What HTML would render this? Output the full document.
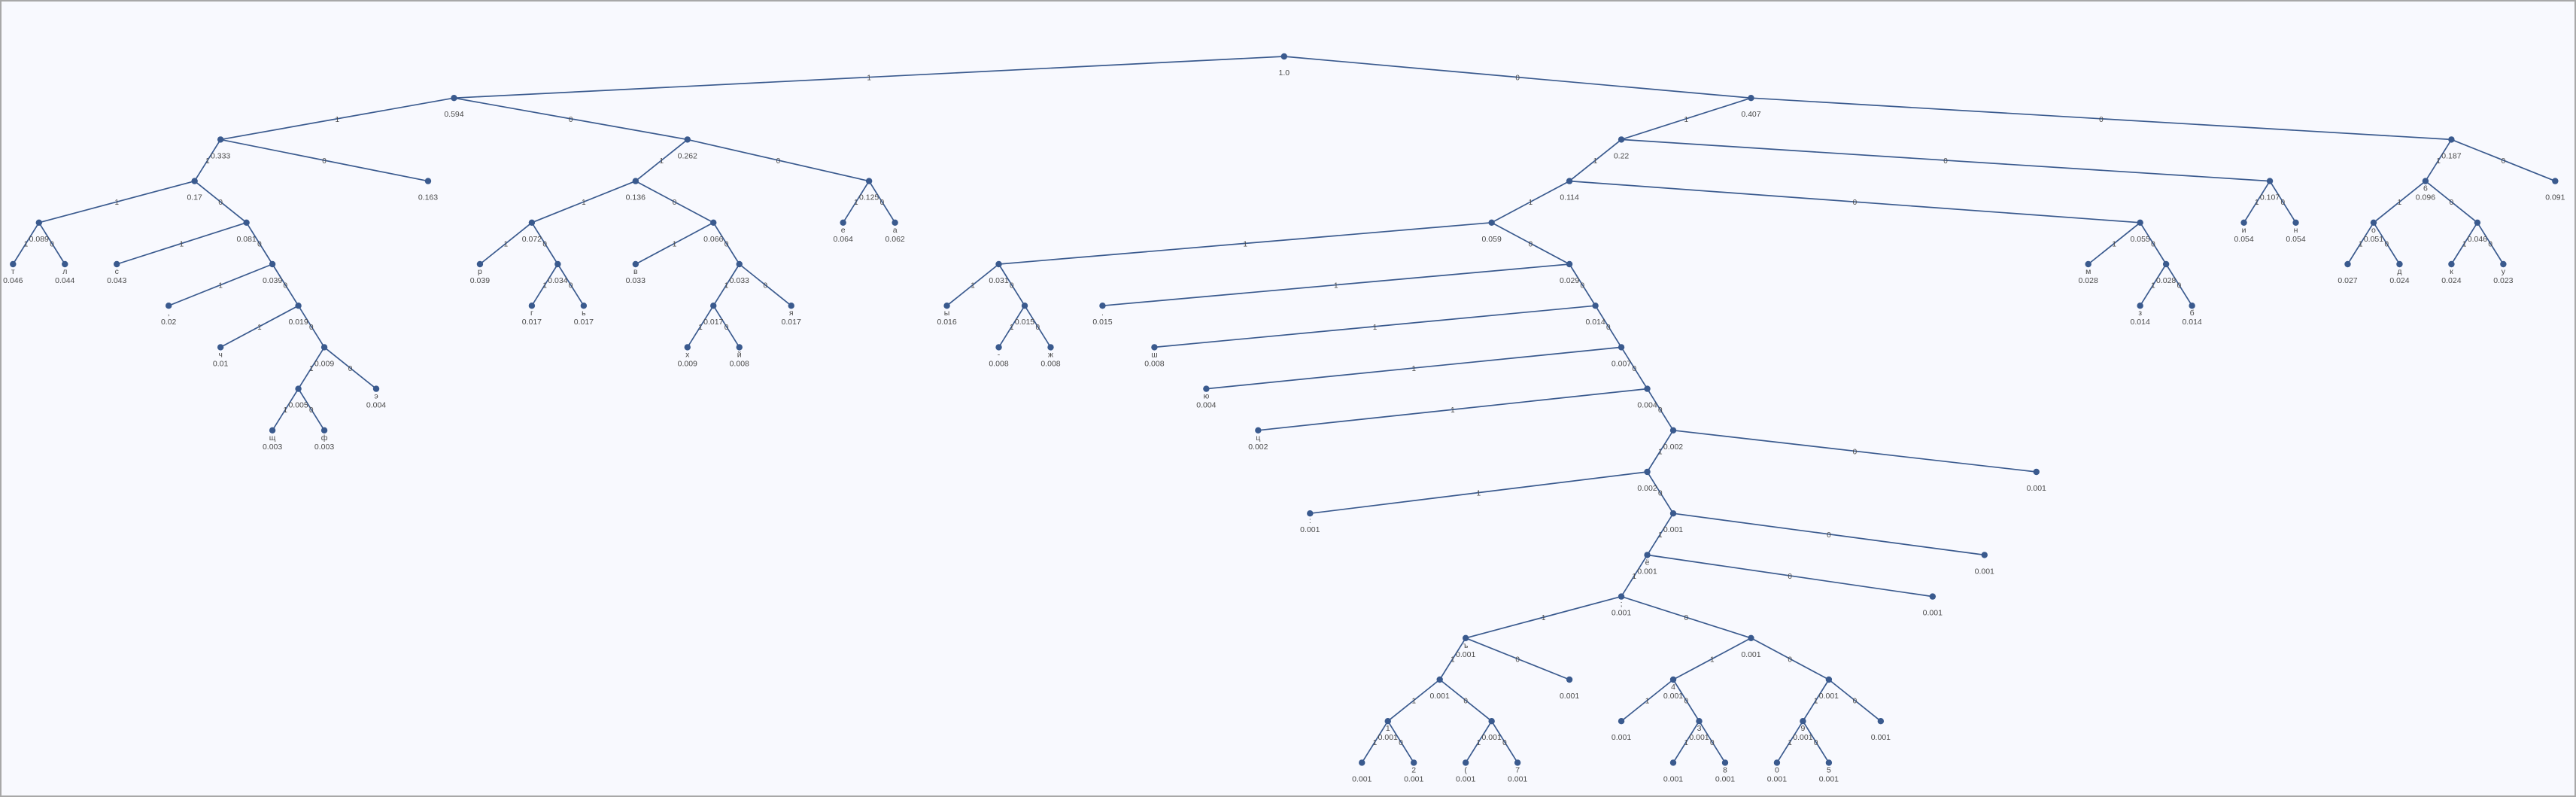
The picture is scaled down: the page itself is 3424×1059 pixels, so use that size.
<!DOCTYPE html>
<html><head><meta charset="utf-8">
<style>
html,body{margin:0;padding:0;background:#f8f9fe;}
#wrap{position:relative;width:3424px;height:1059px;box-sizing:border-box;border:2px solid #a8a8a8;background:#f8f9fe;overflow:hidden;}
svg{position:absolute;left:0;top:0;}
text{font-family:"Liberation Sans","DejaVu Sans",sans-serif;fill:#4a4a4a;}
</style></head>
<body>
<div id="wrap">
<svg id="chart" width="3424" height="1059"></svg>
</div>
<script>
// Tree data: node ids, parent ids, probabilities, symbols, and horizontal slot index
const ids     = ["r","A","B","b163","C","D","t1","l1","E","s1","F","cm","G","ch","H","I","e4","sh3","f3",
 "J262","J","K","p1","L","g1","y1","M","v1","N","O","ya","kh","ji","P","ie","a1",
 "Q","R","S","T","U","i1","n1","V","W","m1","X","z1","b1",
 "Y","yy","Z","hy","zh","AA","dot","AB","sha","AC","yu","AD","ts","AE","AF","col","AG","yo","AH","sc","AI","hard",
 "AJ","AK","AL","one","AM","AN","d2","par","d7","d4","AO","AP","d3","AQ","d8","d9","AR","d0","d5","d6",
 "AS","o1","AT","AU","de","ka","u1","pe"];
const parents = [null,"r","A","B","B","C","D","D","C","E","E","F","F","G","G","H","H","I","I",
 "A","J262","J","K","K","L","L","J","M","M","N","N","O","O","J262","P","P",
 "r","Q","Q","R","R","U","U","T","T","W","W","X","X",
 "V","Y","Y","Z","Z","V","AA","AA","AB","AB","AC","AC","AD","AD","AE","AE","AF","AF","AG","AG","AH","AH",
 "AI","AI","AJ","AJ","AL","AL","AM","AM","AN","AN","AK","AK","AO","AO","AQ","AQ","AP","AP","AR","AR",
 "S","S","AS","AS","AT","AT","AU","AU"];
const probs   = ["1.0","0.594","0.333","0.163","0.17","0.089","0.046","0.044","0.081","0.043","0.039","0.02","0.019","0.01","0.009","0.005","0.004","0.003","0.003",
 "0.262","0.136","0.072","0.039","0.034","0.017","0.017","0.066","0.033","0.033","0.017","0.017","0.009","0.008","0.125","0.064","0.062",
 "0.407","0.22","0.187","0.114","0.107","0.054","0.054","0.059","0.055","0.028","0.028","0.014","0.014",
 "0.031","0.016","0.015","0.008","0.008","0.029","0.015","0.014","0.008","0.007","0.004","0.004","0.002","0.002","0.002","0.001","0.001","0.001","0.001","0.001","0.001","0.001",
 "0.001","0.001","0.001","0.001","0.001","0.001","0.001","0.001","0.001","0.001","0.001","0.001","0.001","0.001","0.001","0.001","0.001","0.001","0.001","0.001",
 "0.096","0.091","0.051","0.046","0.027","0.024","0.024","0.023"];
const symbols = ["","","","","","","т","л","","с","",",","","ч","","","э","щ","ф",
 "","","","р","","г","ь","","в","","","я","х","й","","е","а",
 "","","","","","и","н","","","м","","з","б",
 "","ы","","-","ж","",".","","ш","","ю","","ц","","","","",":","ё","",";","","ъ",
 "","","","1","","","2","(","7","4","","","3","","8","9","","0","5","6",
 "","о","","","д","к","у","п"];
const slots   = [24.5,8.5,4,8,3.5,0.5,0,1,4.5,2,5,3,5.5,4,6,5.5,7,5,6,
 13,12,10,9,10.5,10,11,13.5,12,14,13.5,15,13,14,16.5,16,17,
 33.5,31,47,30,43.5,43,44,28.5,41,40,41.5,41,42,
 19,18,19.5,19,20,30,21,30.5,22,31,23,31.5,24,32,31.5,39,32,25,31.5,38,31,37,
 28,33.5,27.5,30,26.5,28.5,26,27,28,29,32,35,31,32.5,32,33,34.5,36,34,35,
 46.5,49,45.5,47.5,45,46,47,48];

const NS="http://www.w3.org/2000/svg";
const svg=document.getElementById('chart');
const xScale=s=>15.3+68.96*s;
const yScale=d=>73+55.2*d;
const idx={};ids.forEach((id,i)=>idx[id]=i);
const depth=i=>parents[i]===null?0:depth(idx[parents[i]])+1;
const gE=document.createElementNS(NS,'g');svg.appendChild(gE);
const gL=document.createElementNS(NS,'g');svg.appendChild(gL);
const gN=document.createElementNS(NS,'g');svg.appendChild(gN);
ids.forEach((id,i)=>{
  const p=parents[i]; if(p===null) return;
  const pi=idx[p];
  // left child (smaller slot) gets bit 1, right child gets 0
  const sib=ids.findIndex((o,j)=>j!==i&&parents[j]===p);
  const bit=(sib<0||slots[i]<slots[sib])?"1":"0";
  const x1=xScale(slots[pi]),y1=yScale(depth(pi)),x2=xScale(slots[i]),y2=yScale(depth(i));
  const ln=document.createElementNS(NS,'line');
  ln.setAttribute('x1',x1);ln.setAttribute('y1',y1);ln.setAttribute('x2',x2);ln.setAttribute('y2',y2);
  ln.setAttribute('stroke','#3a5a8e');ln.setAttribute('stroke-width','1.7');
  
  
  gE.appendChild(ln);
  const t=document.createElementNS(NS,'text');
  t.setAttribute('x',(x1+x2)/2);t.setAttribute('y',(y1+y2)/2+4);
  t.setAttribute('text-anchor','middle');t.setAttribute('font-size','10');
  t.textContent=bit;
  
  
  gL.appendChild(t);
});
ids.forEach((id,i)=>{
  const x=xScale(slots[i]),y=yScale(depth(i));
  const c=document.createElementNS(NS,'circle');
  c.setAttribute('cx',x);c.setAttribute('cy',y);c.setAttribute('r','4.2');c.setAttribute('fill','#3a5a8e');
  
  
  gN.appendChild(c);
  if(symbols[i]){
    const s=document.createElementNS(NS,'text');
    s.setAttribute('x',x);s.setAttribute('y',y+13);s.setAttribute('text-anchor','middle');s.setAttribute('font-size','10.5');
    s.textContent=symbols[i];
    
    
    gN.appendChild(s);
  }
  const v=document.createElementNS(NS,'text');
  v.setAttribute('x',x);v.setAttribute('y',y+25);v.setAttribute('text-anchor','middle');v.setAttribute('font-size','10.5');
  v.textContent=probs[i];
  
  
  gN.appendChild(v);
});
</script>
</body></html>
